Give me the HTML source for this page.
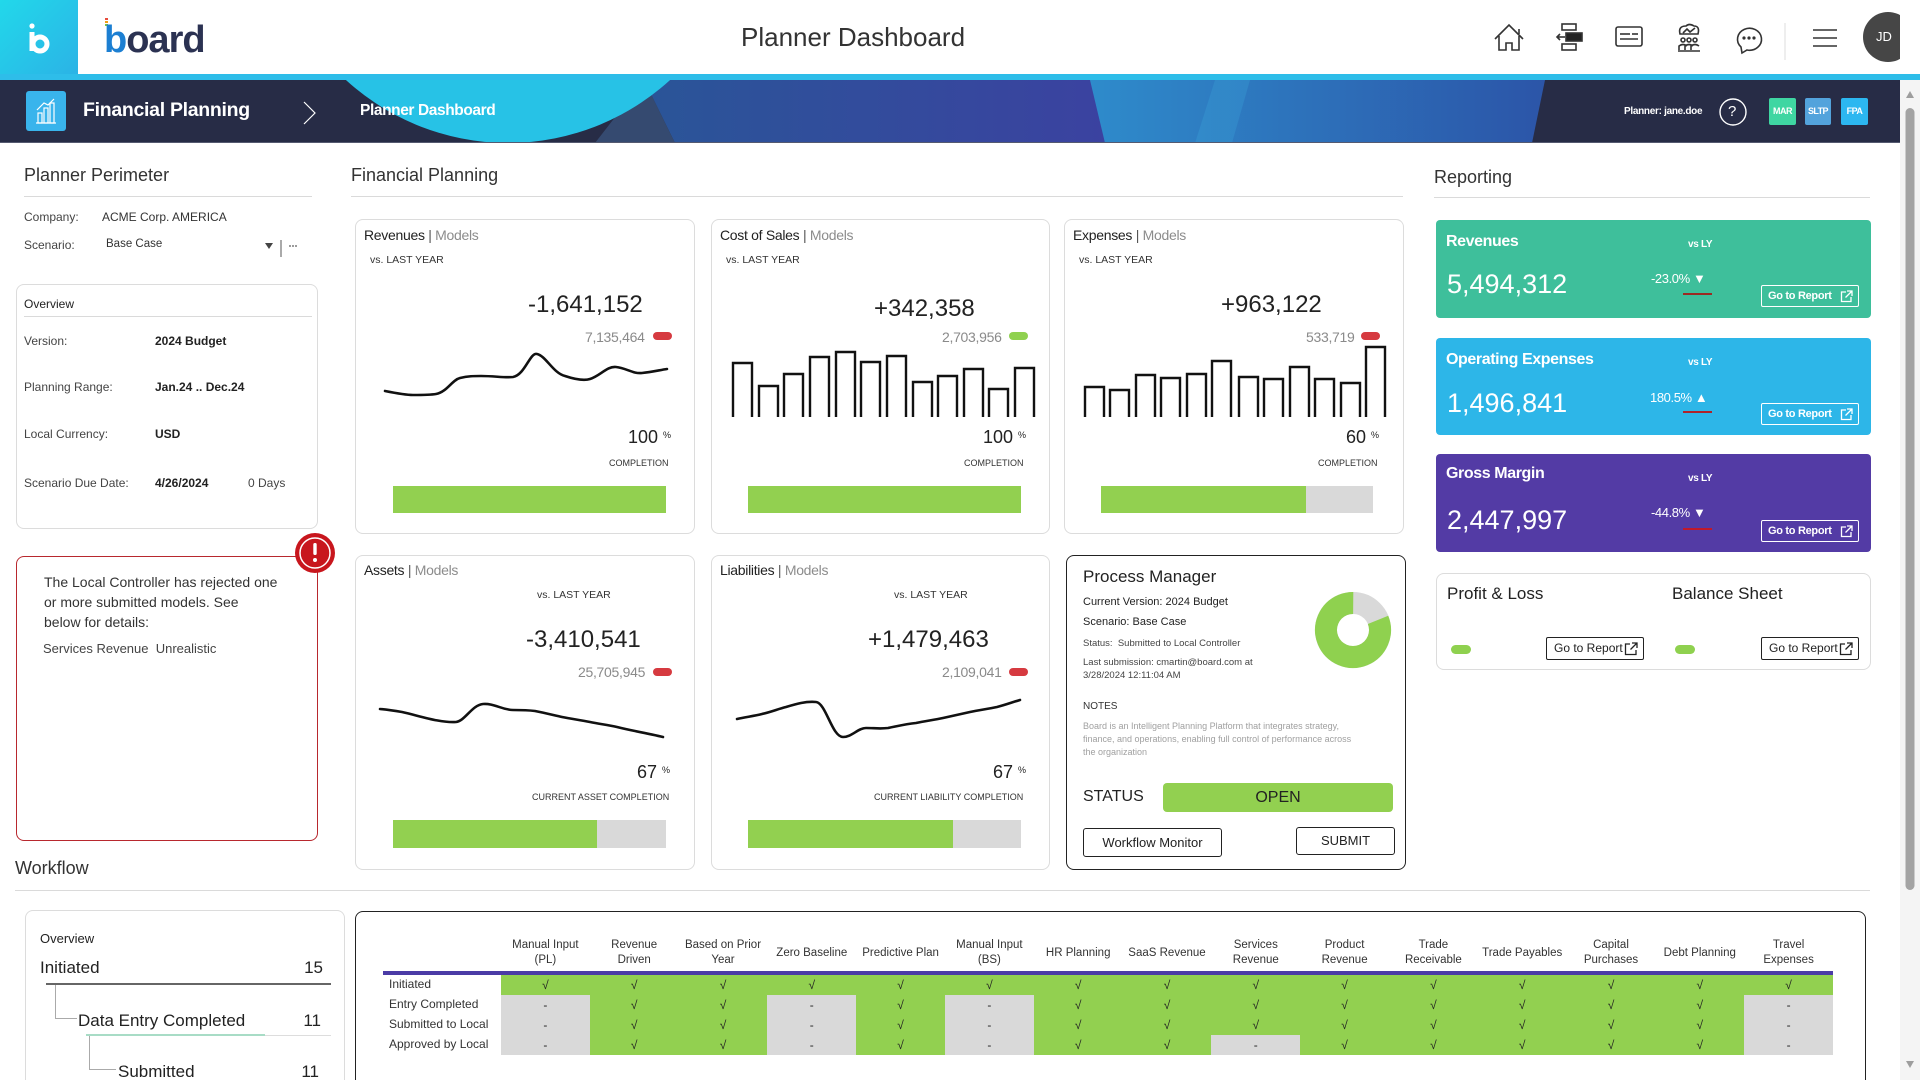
<!DOCTYPE html>
<html><head><meta charset="utf-8">
<style>
*{margin:0;padding:0;box-sizing:border-box}
html,body{width:1920px;height:1080px;overflow:hidden;background:#fff}
body{font-family:"Liberation Sans",Arial,sans-serif;color:#222}
#root{position:relative;width:1920px;height:1080px;overflow:hidden;background:#fff}
.t{position:absolute;white-space:nowrap;line-height:1.2}
.box{position:absolute;border:1px solid #dcdcdc;border-radius:8px;background:#fff}
.hl{position:absolute;height:1px;background:#dadada}
.gbar{position:absolute;background:#d9d9d9}
.gbar i{position:absolute;left:0;top:0;bottom:0;background:#92d050}
.pill{position:absolute;width:19px;height:8px;border-radius:4px}
.tile{position:absolute;left:1436px;width:435px;height:98px;border-radius:4px}
.btnw{position:absolute;width:98px;height:22px;border:1px solid #fff;border-radius:2px;color:#fff;font-weight:bold;font-size:11px;line-height:20px;padding-left:6px;letter-spacing:-0.3px;white-space:nowrap}
.btnk{position:absolute;width:98px;height:23px;border:1px solid #222;border-radius:2px;color:#222;font-size:12px;line-height:21px;padding-left:7px;background:#fff;white-space:nowrap}
.btnw svg,.btnk svg{position:absolute;right:5px;top:4px}
.col{position:absolute;top:975px;width:88.8px}
.col i{display:block;height:20px;line-height:20px;text-align:center;font-style:normal;font-size:12px;color:#222}
.g{background:#92d050}.y{background:#d9d9d9}
.hd{position:absolute;top:933px;height:40px;width:88.8px;display:flex;align-items:center;justify-content:center;text-align:center;font-size:11.5px;line-height:15px;color:#333}
.rl{position:absolute;left:389px;font-size:12px;color:#333;line-height:14px;white-space:nowrap}
</style></head><body><div id="root">

<!-- HEADER -->
<div style="position:absolute;left:0;top:0;width:78px;height:74px;background:linear-gradient(135deg,#22d8ea,#2bb3e6)"></div>
<svg style="position:absolute;left:0;top:0" width="78" height="74">
<circle cx="32" cy="26" r="2.6" fill="#fff"/>
<line x1="32" y1="32" x2="32" y2="51" stroke="#fff" stroke-width="5"/>
<circle cx="40" cy="44" r="7" fill="none" stroke="#fff" stroke-width="5"/>
</svg>
<div style="position:absolute;left:0;top:74px;width:1920px;height:6px;background:#2ebde9"></div>
<svg style="position:absolute;left:105px;top:18px" width="12" height="10"><rect x="0" y="0" width="3" height="2" fill="#e74c3c"/><rect x="0" y="3" width="3" height="2" fill="#f39c12"/><rect x="0" y="6" width="3" height="2" fill="#7cc242"/></svg>
<div class="t" style="left:104px;top:18px;font-size:38px;font-weight:bold;letter-spacing:-1px;color:#2b3252"><span style="color:#1c7fd2">b</span>oard</div>
<div class="t" style="left:741px;top:22px;font-size:26px;color:#333">Planner Dashboard</div>

<svg style="position:absolute;left:0;top:0" width="1900" height="74" fill="none" stroke="#333" stroke-width="1.6">
<polyline points="1495,39 1509,25 1523,39"/><polyline points="1519,29 1519,34"/>
<polyline points="1499,36 1499,50 1506,50 1506,43 1512,43 1512,50 1519,50 1519,36"/>
<rect x="1562" y="24" width="14" height="6"/><rect x="1562" y="44" width="14" height="6"/>
<rect x="1566" y="33" width="16" height="8" fill="#222"/>
<polyline points="1557,37 1565,37"/><polyline points="1560,34 1557,37 1560,40"/>
<rect x="1616" y="27" width="26" height="19" rx="2"/>
<line x1="1620" y1="34" x2="1630" y2="34"/><line x1="1632" y1="34" x2="1638" y2="34"/><line x1="1620" y1="39" x2="1638" y2="39"/>
<path d="M1680,34 q-2,-8 6,-8 q3,-3 8,0 q6,0 4,8 z"/><polyline points="1683,33 1687,29 1690,32 1695,28"/>
<circle cx="1683" cy="40" r="2"/><circle cx="1689" cy="40" r="2"/><circle cx="1695" cy="40" r="2"/>
<path d="M1679,50 v-4 q4,-3 8,0 M1685,50 v-4 q4,-3 8,0 M1691,50 v-4 q4,-3 8,0"/><line x1="1678" y1="51" x2="1700" y2="51"/>
<path d="M1741,47 A12,11 0 1 1 1747,50 L1742,53 Z"/>
<circle cx="1744" cy="38" r="0.8" fill="#333"/><circle cx="1749" cy="38" r="0.8" fill="#333"/><circle cx="1754" cy="38" r="0.8" fill="#333"/>
<line x1="1785" y1="23" x2="1785" y2="60" stroke="#ddd" stroke-width="1"/>
<line x1="1813" y1="30" x2="1837" y2="30"/><line x1="1813" y1="38" x2="1837" y2="38"/><line x1="1813" y1="46" x2="1837" y2="46"/>
<circle cx="1888" cy="37" r="25" fill="#464646" stroke="none"/>
</svg>
<div class="t" style="left:1876px;top:29px;font-size:13px;color:#fff">JD</div>

<!-- NAV BAR -->
<svg style="position:absolute;left:0;top:80px" width="1900" height="63">
<defs>
<linearGradient id="gA" x1="0" x2="1"><stop offset="0" stop-color="#2a5598"/><stop offset="1" stop-color="#3b42a0"/></linearGradient>
<linearGradient id="gB" x1="0" x2="1"><stop offset="0" stop-color="#2e8bcb"/><stop offset="1" stop-color="#2c55a8"/></linearGradient>
</defs>
<rect width="1900" height="63" fill="#272c46"/>
<polygon points="644,0 1095,0 1108,63 675,63" fill="url(#gA)"/>
<polygon points="644,0 675,63 595,63" fill="#354a70"/>
<polygon points="1090,0 1545,0 1532,63 1105,63" fill="url(#gB)"/>
<polygon points="1215,0 1250,0 1232,63 1195,63" fill="#3aa0d8" opacity=".35"/>
<circle cx="508" cy="-177" r="240" fill="#27c2e6"/>
<rect x="0" y="62" width="1900" height="1" fill="#555a70"/>
</svg>
<div style="position:absolute;left:26px;top:91px;width:40px;height:40px;border-radius:3px;background:#39b4ec"></div>
<svg style="position:absolute;left:26px;top:91px" width="40" height="40" fill="none" stroke="#fff" stroke-width="1.2">
<rect x="12" y="22" width="4" height="10"/><rect x="18" y="17" width="4" height="15"/><rect x="24" y="12" width="4" height="20"/>
<polyline points="11,19 18,12 22,14 28,8"/><line x1="10" y1="32" x2="30" y2="32"/>
</svg>
<div class="t" style="left:83px;top:99px;font-size:19.5px;font-weight:bold;color:#fff;letter-spacing:-0.3px">Financial Planning</div>
<svg style="position:absolute;left:300px;top:100px" width="20" height="26"><polyline points="4,2 15,13 4,24" fill="none" stroke="#fff" stroke-width="1.2"/></svg>
<div class="t" style="left:360px;top:102px;font-size:15.5px;font-weight:bold;color:#fff;letter-spacing:-0.4px">Planner Dashboard</div>
<div class="t" style="left:1624px;top:106px;font-size:10px;font-weight:bold;color:#fff;letter-spacing:-0.3px">Planner: jane.doe</div>
<svg style="position:absolute;left:1718px;top:97px" width="30" height="30"><circle cx="15" cy="15" r="13" fill="none" stroke="#fff" stroke-width="1.4"/></svg>
<div class="t" style="left:1728px;top:103px;font-size:15px;color:#fff">?</div>
<div class="t" style="left:1769px;top:98px;width:27px;height:27px;border-radius:2px;background:#3fd6a2;color:#fff;font-size:9px;font-weight:bold;text-align:center;line-height:27px;letter-spacing:-0.5px">MAR</div>
<div class="t" style="left:1805px;top:98px;width:26px;height:27px;border-radius:2px;background:#53a3dc;color:#fff;font-size:9px;font-weight:bold;text-align:center;line-height:27px;letter-spacing:-0.6px">SLTP</div>
<div class="t" style="left:1841px;top:98px;width:27px;height:27px;border-radius:2px;background:#2cb7f0;color:#fff;font-size:9px;font-weight:bold;text-align:center;line-height:27px;letter-spacing:-0.5px">FPA</div>

<!-- SCROLLBAR -->
<svg style="position:absolute;left:1900px;top:80px" width="20" height="1000">
<rect width="20" height="1000" fill="#f4f4f4"/>
<polygon points="10,11 6,18 14,18" fill="#9d9d9d"/>
<rect x="5.5" y="28" width="9" height="782" rx="4.5" fill="#a3a3a3"/>
<polygon points="10,988 6,981 14,981" fill="#9d9d9d"/>
</svg>

<!-- LEFT COLUMN -->
<div class="t" style="left:24px;top:165px;font-size:18px;color:#333">Planner Perimeter</div>
<div class="hl" style="left:24px;top:196px;width:288px"></div>
<div class="t" style="left:24px;top:210px;font-size:12px;color:#444">Company:</div>
<div class="t" style="left:102px;top:210px;font-size:12px;color:#333">ACME Corp. AMERICA</div>
<div class="t" style="left:24px;top:238px;font-size:12px;color:#444">Scenario:</div>
<div class="t" style="left:106px;top:238px;font-size:11.5px;color:#333">Base Case</div>
<svg style="position:absolute;left:262px;top:240px" width="40" height="20"><polygon points="3,3 11,3 7,9" fill="#444"/><line x1="19" y1="-6" x2="19" y2="17" stroke="#555" stroke-width="1"/><circle cx="28" cy="6" r="0.9" fill="#555"/><circle cx="31" cy="6" r="0.9" fill="#555"/><circle cx="34" cy="6" r="0.9" fill="#555"/></svg>

<div class="box" style="left:16px;top:284px;width:302px;height:245px"></div>
<div class="t" style="left:24px;top:297px;font-size:12px;color:#222">Overview</div>
<div class="hl" style="left:24px;top:316px;width:288px"></div>
<div class="t" style="left:24px;top:334px;font-size:12px;color:#444">Version:</div>
<div class="t" style="left:155px;top:334px;font-size:12px;font-weight:bold;color:#222">2024 Budget</div>
<div class="t" style="left:24px;top:380px;font-size:12px;color:#444">Planning Range:</div>
<div class="t" style="left:155px;top:380px;font-size:12px;font-weight:bold;color:#222">Jan.24 .. Dec.24</div>
<div class="t" style="left:24px;top:427px;font-size:12px;color:#444">Local Currency:</div>
<div class="t" style="left:155px;top:427px;font-size:12px;font-weight:bold;color:#222">USD</div>
<div class="t" style="left:24px;top:476px;font-size:12px;color:#444">Scenario Due Date:</div>
<div class="t" style="left:155px;top:476px;font-size:12px;font-weight:bold;color:#222">4/26/2024</div>
<div class="t" style="left:248px;top:476px;font-size:12px;color:#444">0 Days</div>

<div style="position:absolute;left:16px;top:556px;width:302px;height:285px;border:1.3px solid #b8282e;border-radius:8px"></div>
<svg style="position:absolute;left:294px;top:532px" width="42" height="42"><circle cx="21" cy="21" r="20" fill="#c8161d"/><circle cx="21" cy="21" r="15" fill="none" stroke="#fff" stroke-width="1.5"/><rect x="19.3" y="11" width="3.4" height="12" rx="1.5" fill="#fff"/><circle cx="21" cy="28" r="2" fill="#fff"/></svg>
<div class="t" style="left:44px;top:572px;font-size:14px;line-height:20px;color:#333">The Local Controller has rejected one<br>or more submitted models. See<br>below for details:</div>
<div class="t" style="left:43px;top:641px;font-size:13px;color:#444">Services Revenue&nbsp; Unrealistic</div>

<!-- FINANCIAL PLANNING -->
<div class="t" style="left:351px;top:165px;font-size:18px;color:#333">Financial Planning</div>
<div class="hl" style="left:351px;top:196px;width:1052px"></div>

<div class="box" style="left:355px;top:219px;width:340px;height:315px"></div>
<div class="box" style="left:711px;top:219px;width:339px;height:315px"></div>
<div class="box" style="left:1064px;top:219px;width:340px;height:315px"></div>
<div class="box" style="left:355px;top:555px;width:340px;height:315px"></div>
<div class="box" style="left:711px;top:555px;width:339px;height:315px"></div>
<div style="position:absolute;left:1066px;top:555px;width:340px;height:315px;border:1.5px solid #222;border-radius:8px"></div>

<!-- Revenues -->
<div class="t" style="left:364px;top:227px;font-size:14px;color:#222;letter-spacing:-0.3px">Revenues <span style="color:#555">|</span> <span style="color:#8c8c8c">Models</span></div>
<div class="t" style="left:370px;top:254px;font-size:10.5px;color:#333">vs. LAST YEAR</div>
<div class="t" style="left:528px;top:291px;font-size:24px;color:#222">-1,641,152</div>
<div class="t" style="left:585px;top:329px;font-size:14px;color:#8a8a8a;letter-spacing:-0.3px">7,135,464</div>
<div class="pill" style="left:653px;top:332px;background:#d63a40"></div>
<div class="t" style="left:628px;top:427px;font-size:18px;color:#222">100<span style="font-size:9px;vertical-align:5px;margin-left:5px">%</span></div>
<div class="t" style="left:609px;top:458px;font-size:9px;color:#333">COMPLETION</div>
<div class="gbar" style="left:393px;top:486px;width:273px;height:27px"><i style="width:273px"></i></div>

<!-- Cost of Sales -->
<div class="t" style="left:720px;top:227px;font-size:14px;color:#222;letter-spacing:-0.3px">Cost of Sales <span style="color:#555">|</span> <span style="color:#8c8c8c">Models</span></div>
<div class="t" style="left:726px;top:254px;font-size:10.5px;color:#333">vs. LAST YEAR</div>
<div class="t" style="left:874px;top:295px;font-size:24px;color:#222">+342,358</div>
<div class="t" style="left:942px;top:329px;font-size:14px;color:#8a8a8a;letter-spacing:-0.3px">2,703,956</div>
<div class="pill" style="left:1009px;top:332px;background:#8fd14f"></div>
<div class="t" style="left:983px;top:427px;font-size:18px;color:#222">100<span style="font-size:9px;vertical-align:5px;margin-left:5px">%</span></div>
<div class="t" style="left:964px;top:458px;font-size:9px;color:#333">COMPLETION</div>
<div class="gbar" style="left:748px;top:486px;width:273px;height:27px"><i style="width:273px"></i></div>

<!-- Expenses -->
<div class="t" style="left:1073px;top:227px;font-size:14px;color:#222;letter-spacing:-0.3px">Expenses <span style="color:#555">|</span> <span style="color:#8c8c8c">Models</span></div>
<div class="t" style="left:1079px;top:254px;font-size:10.5px;color:#333">vs. LAST YEAR</div>
<div class="t" style="left:1221px;top:291px;font-size:24px;color:#222">+963,122</div>
<div class="t" style="left:1306px;top:329px;font-size:14px;color:#8a8a8a;letter-spacing:-0.3px">533,719</div>
<div class="pill" style="left:1361px;top:332px;background:#d63a40"></div>
<div class="t" style="left:1346px;top:427px;font-size:18px;color:#222">60<span style="font-size:9px;vertical-align:5px;margin-left:5px">%</span></div>
<div class="t" style="left:1318px;top:458px;font-size:9px;color:#333">COMPLETION</div>
<div class="gbar" style="left:1101px;top:486px;width:272px;height:27px"><i style="width:205px"></i></div>

<!-- Assets -->
<div class="t" style="left:364px;top:562px;font-size:14px;color:#222;letter-spacing:-0.3px">Assets <span style="color:#555">|</span> <span style="color:#8c8c8c">Models</span></div>
<div class="t" style="left:537px;top:589px;font-size:10.5px;color:#333">vs. LAST YEAR</div>
<div class="t" style="left:526px;top:626px;font-size:24px;color:#222">-3,410,541</div>
<div class="t" style="left:578px;top:664px;font-size:14px;color:#8a8a8a;letter-spacing:-0.3px">25,705,945</div>
<div class="pill" style="left:653px;top:668px;background:#d63a40"></div>
<div class="t" style="left:637px;top:762px;font-size:18px;color:#222">67<span style="font-size:9px;vertical-align:5px;margin-left:5px">%</span></div>
<div class="t" style="left:532px;top:792px;font-size:9px;color:#333">CURRENT ASSET COMPLETION</div>
<div class="gbar" style="left:393px;top:820px;width:273px;height:28px"><i style="width:204px"></i></div>

<!-- Liabilities -->
<div class="t" style="left:720px;top:562px;font-size:14px;color:#222;letter-spacing:-0.3px">Liabilities <span style="color:#555">|</span> <span style="color:#8c8c8c">Models</span></div>
<div class="t" style="left:894px;top:589px;font-size:10.5px;color:#333">vs. LAST YEAR</div>
<div class="t" style="left:868px;top:626px;font-size:24px;color:#222">+1,479,463</div>
<div class="t" style="left:942px;top:664px;font-size:14px;color:#8a8a8a;letter-spacing:-0.3px">2,109,041</div>
<div class="pill" style="left:1009px;top:668px;background:#d63a40"></div>
<div class="t" style="left:993px;top:762px;font-size:18px;color:#222">67<span style="font-size:9px;vertical-align:5px;margin-left:5px">%</span></div>
<div class="t" style="left:874px;top:792px;font-size:9px;color:#333">CURRENT LIABILITY COMPLETION</div>
<div class="gbar" style="left:748px;top:820px;width:273px;height:28px"><i style="width:205px"></i></div>

<!-- Process Manager -->
<div class="t" style="left:1083px;top:567px;font-size:17px;color:#222">Process Manager</div>
<div class="t" style="left:1083px;top:596px;font-size:11px;color:#222">Current Version: 2024 Budget</div>
<div class="t" style="left:1083px;top:616px;font-size:11px;color:#222">Scenario: Base Case</div>
<div class="t" style="left:1083px;top:638px;font-size:9.5px;color:#444">Status:&nbsp; Submitted to Local Controller</div>
<div class="t" style="left:1083px;top:656px;font-size:9.5px;color:#444;line-height:13px">Last submission: cmartin@board.com at<br>3/28/2024 12:11:04 AM</div>
<div class="t" style="left:1083px;top:701px;font-size:10px;color:#333">NOTES</div>
<div class="t" style="left:1083px;top:720px;font-size:9px;color:#a0a0a0;line-height:13px">Board is an Intelligent Planning Platform that integrates strategy,<br>finance, and operations, enabling full control of performance across<br>the organization</div>
<div class="t" style="left:1083px;top:787px;font-size:16px;color:#222">STATUS</div>
<div class="t" style="left:1163px;top:783px;width:230px;height:29px;border-radius:4px;background:#92d050;text-align:center;line-height:29px;font-size:16px;color:#222">OPEN</div>
<div class="t" style="left:1083px;top:828px;width:139px;height:29px;border:1px solid #222;border-radius:3px;text-align:center;line-height:27px;font-size:13px;color:#222">Workflow Monitor</div>
<div class="t" style="left:1296px;top:827px;width:99px;height:28px;border:1px solid #222;border-radius:3px;text-align:center;line-height:26px;font-size:13px;color:#222">SUBMIT</div>

<!-- REPORTING -->
<div class="t" style="left:1434px;top:167px;font-size:18px;color:#333">Reporting</div>
<div class="hl" style="left:1434px;top:197px;width:436px"></div>

<div class="tile" style="top:220px;background:#3ebf9b"></div>
<div class="t" style="left:1446px;top:232px;font-size:16px;font-weight:bold;color:#fff;letter-spacing:-0.4px">Revenues</div>
<div class="t" style="left:1688px;top:239px;font-size:10px;font-weight:bold;color:#fff;letter-spacing:-0.3px">vs LY</div>
<div class="t" style="left:1447px;top:268px;font-size:27px;color:#fff">5,494,312</div>
<div class="t" style="left:1651px;top:271px;font-size:13px;color:#fff;letter-spacing:-0.4px">-23.0% ▼</div>
<div style="position:absolute;left:1683px;top:293px;width:29px;height:2px;background:#9c2a22"></div>
<div class="btnw" style="left:1761px;top:285px">Go to Report<svg width="13" height="13" fill="none" stroke="#fff" stroke-width="1.3"><path d="M6,2H1.5V11.5H11V7"/><path d="M7,1H12V6M12,1L5.5,7.5"/></svg></div>

<div class="tile" style="top:338px;height:97px;background:#2db6e8"></div>
<div class="t" style="left:1446px;top:350px;font-size:16px;font-weight:bold;color:#fff;letter-spacing:-0.4px">Operating Expenses</div>
<div class="t" style="left:1688px;top:357px;font-size:10px;font-weight:bold;color:#fff;letter-spacing:-0.3px">vs LY</div>
<div class="t" style="left:1447px;top:387px;font-size:27px;color:#fff">1,496,841</div>
<div class="t" style="left:1650px;top:390px;font-size:13px;color:#fff;letter-spacing:-0.4px">180.5% ▲</div>
<div style="position:absolute;left:1683px;top:411px;width:29px;height:2px;background:#b0232a"></div>
<div class="btnw" style="left:1761px;top:403px">Go to Report<svg width="13" height="13" fill="none" stroke="#fff" stroke-width="1.3"><path d="M6,2H1.5V11.5H11V7"/><path d="M7,1H12V6M12,1L5.5,7.5"/></svg></div>

<div class="tile" style="top:454px;background:#533ba5"></div>
<div class="t" style="left:1446px;top:464px;font-size:16px;font-weight:bold;color:#fff;letter-spacing:-0.4px">Gross Margin</div>
<div class="t" style="left:1688px;top:473px;font-size:10px;font-weight:bold;color:#fff;letter-spacing:-0.3px">vs LY</div>
<div class="t" style="left:1447px;top:504px;font-size:27px;color:#fff">2,447,997</div>
<div class="t" style="left:1651px;top:505px;font-size:13px;color:#fff;letter-spacing:-0.4px">-44.8% ▼</div>
<div style="position:absolute;left:1683px;top:528px;width:29px;height:2px;background:#c0192a"></div>
<div class="btnw" style="left:1761px;top:520px">Go to Report<svg width="13" height="13" fill="none" stroke="#fff" stroke-width="1.3"><path d="M6,2H1.5V11.5H11V7"/><path d="M7,1H12V6M12,1L5.5,7.5"/></svg></div>

<div class="box" style="left:1436px;top:573px;width:435px;height:97px"></div>
<div class="t" style="left:1447px;top:584px;font-size:17px;color:#222">Profit &amp; Loss</div>
<div class="t" style="left:1672px;top:584px;font-size:17px;color:#222">Balance Sheet</div>
<div style="position:absolute;left:1451px;top:645px;width:20px;height:9px;border-radius:5px;background:#8fd14f"></div>
<div style="position:absolute;left:1675px;top:645px;width:20px;height:9px;border-radius:5px;background:#8fd14f"></div>
<div class="btnk" style="left:1546px;top:637px">Go to Report<svg width="14" height="14" fill="none" stroke="#222" stroke-width="1.3"><path d="M6,2H1.5V12.5H12V8"/><path d="M8,1H13V6M13,1L6.5,7.5"/></svg></div>
<div class="btnk" style="left:1761px;top:637px">Go to Report<svg width="14" height="14" fill="none" stroke="#222" stroke-width="1.3"><path d="M6,2H1.5V12.5H12V8"/><path d="M8,1H13V6M13,1L6.5,7.5"/></svg></div>

<!-- WORKFLOW -->
<div class="t" style="left:15px;top:858px;font-size:18px;color:#333">Workflow</div>
<div class="hl" style="left:15px;top:890px;width:1855px"></div>

<div class="box" style="left:25px;top:910px;width:320px;height:220px"></div>
<div class="t" style="left:40px;top:931px;font-size:13px;color:#222">Overview</div>
<div class="t" style="left:40px;top:958px;font-size:17px;color:#222">Initiated</div>
<div class="t" style="left:283px;top:958px;width:40px;text-align:right;font-size:17px;color:#222">15</div>
<div style="position:absolute;left:46px;top:983px;width:285px;height:2px;background:#666"></div>
<div style="position:absolute;left:55px;top:985px;width:22px;height:34px;border-left:1px solid #aaa;border-bottom:1px solid #aaa"></div>
<div class="t" style="left:78px;top:1011px;font-size:17px;color:#222">Data Entry Completed</div>
<div class="t" style="left:281px;top:1011px;width:40px;text-align:right;font-size:17px;color:#222">11</div>
<div style="position:absolute;left:86px;top:1035px;width:245px;height:1px;background:#ddd"></div>
<div style="position:absolute;left:86px;top:1034px;width:179px;height:2px;background:#a8dcc6"></div>
<div style="position:absolute;left:89px;top:1036px;width:27px;height:34px;border-left:1px solid #aaa;border-bottom:1px solid #aaa"></div>
<div class="t" style="left:118px;top:1062px;font-size:17px;color:#222">Submitted</div>
<div class="t" style="left:279px;top:1062px;width:40px;text-align:right;font-size:17px;color:#222">11</div>

<div style="position:absolute;left:355px;top:911px;width:1511px;height:220px;border:1.5px solid #222;border-radius:8px"></div>
<div class="hd" style="left:501px">Manual Input<br>(PL)</div>
<div class="hd" style="left:589.8px">Revenue<br>Driven</div>
<div class="hd" style="left:678.6px">Based on Prior<br>Year</div>
<div class="hd" style="left:767.4px">Zero Baseline</div>
<div class="hd" style="left:856.2px">Predictive Plan</div>
<div class="hd" style="left:945px">Manual Input<br>(BS)</div>
<div class="hd" style="left:1033.8px">HR Planning</div>
<div class="hd" style="left:1122.6px">SaaS Revenue</div>
<div class="hd" style="left:1211.4px">Services<br>Revenue</div>
<div class="hd" style="left:1300.2px">Product<br>Revenue</div>
<div class="hd" style="left:1389px">Trade<br>Receivable</div>
<div class="hd" style="left:1477.8px">Trade Payables</div>
<div class="hd" style="left:1566.6px">Capital<br>Purchases</div>
<div class="hd" style="left:1655.4px">Debt Planning</div>
<div class="hd" style="left:1744.2px">Travel<br>Expenses</div>
<div style="position:absolute;left:383px;top:971px;width:1450px;height:4px;background:#4b3ba6"></div>
<div class="rl" style="top:977px">Initiated</div>
<div class="rl" style="top:997px">Entry Completed</div>
<div class="rl" style="top:1017px">Submitted to Local</div>
<div class="rl" style="top:1037px">Approved by Local</div>

<div class="col" style="left:501px"><i class="g">√</i><i class="y">-</i><i class="y">-</i><i class="y">-</i></div>
<div class="col" style="left:589.8px"><i class="g">√</i><i class="g">√</i><i class="g">√</i><i class="g">√</i></div>
<div class="col" style="left:678.6px"><i class="g">√</i><i class="g">√</i><i class="g">√</i><i class="g">√</i></div>
<div class="col" style="left:767.4px"><i class="g">√</i><i class="y">-</i><i class="y">-</i><i class="y">-</i></div>
<div class="col" style="left:856.2px"><i class="g">√</i><i class="g">√</i><i class="g">√</i><i class="g">√</i></div>
<div class="col" style="left:945px"><i class="g">√</i><i class="y">-</i><i class="y">-</i><i class="y">-</i></div>
<div class="col" style="left:1033.8px"><i class="g">√</i><i class="g">√</i><i class="g">√</i><i class="g">√</i></div>
<div class="col" style="left:1122.6px"><i class="g">√</i><i class="g">√</i><i class="g">√</i><i class="g">√</i></div>
<div class="col" style="left:1211.4px"><i class="g">√</i><i class="g">√</i><i class="g">√</i><i class="y">-</i></div>
<div class="col" style="left:1300.2px"><i class="g">√</i><i class="g">√</i><i class="g">√</i><i class="g">√</i></div>
<div class="col" style="left:1389px"><i class="g">√</i><i class="g">√</i><i class="g">√</i><i class="g">√</i></div>
<div class="col" style="left:1477.8px"><i class="g">√</i><i class="g">√</i><i class="g">√</i><i class="g">√</i></div>
<div class="col" style="left:1566.6px"><i class="g">√</i><i class="g">√</i><i class="g">√</i><i class="g">√</i></div>
<div class="col" style="left:1655.4px"><i class="g">√</i><i class="g">√</i><i class="g">√</i><i class="g">√</i></div>
<div class="col" style="left:1744.2px"><i class="g">√</i><i class="y">-</i><i class="y">-</i><i class="y">-</i></div>

<!-- CHART OVERLAY -->
<svg style="position:absolute;left:0;top:0;pointer-events:none" width="1920" height="1080" fill="none" stroke="#111" stroke-width="2.6" stroke-linejoin="round" stroke-linecap="round">
<path d="M385,391 C395,393 405,395 413,395 C422,395 430,395 436,394 C447,392 452,380 460,378 C468,376 474,376 481,376 C495,376 505,378 513,377 C525,375 530,352 537,354 C546,356 553,373 565,376 C574,379 584,381 590,379 C600,376 607,366 616,367 C626,368 633,374 642,373 C652,372 660,370 667,369"/>
<path d="M380,709 C390,710 396,711 402,712 C420,716 440,723 456,722 C465,721 472,705 483,704 C493,703 503,710 513,710 C522,710 527,710 535,711 C545,713 553,715 562,717 C572,719 580,720 590,722 C600,724 608,725 617,727 C625,729 630,730 635,731 C645,733 655,735 663,737"/>
<path d="M737,719 C746,717 754,716 762,714 C771,712 778,709 786,707 C796,704 806,701 816,702 C826,703 832,737 843,737 C852,737 858,728 866,728 C874,728 880,729 888,728 C898,726 906,724 916,723 C925,721 934,720 943,718 C952,716 961,714 970,712 C979,710 988,709 997,707 C1005,705 1013,702 1020,700"/>
<g stroke-width="2.4" stroke-linejoin="miter" stroke-linecap="butt">
<path d="M733,417V363H752V417 M759,417V386H778V417 M784,417V374H803V417 M810,417V357H829V417 M836,417V352H855V417 M861,417V362H880V417 M887,417V356H906V417 M913,417V382H932V417 M938,417V376H957V417 M964,417V369H983V417 M989,417V389H1008V417 M1015,417V368H1034V417"/>
<path d="M1085,417V387H1104V417 M1110,417V390H1129V417 M1136,417V375H1155V417 M1161,417V378H1180V417 M1187,417V374H1206V417 M1212,417V361H1231V417 M1239,417V377H1258V417 M1264,417V379H1283V417 M1290,417V367H1309V417 M1315,417V379H1334V417 M1341,417V383H1360V417 M1366,417V347H1385V417"/>
</g>
<circle cx="1353" cy="630" r="27" stroke="#d9d9d9" stroke-width="22"/>
<circle cx="1353" cy="630" r="27" stroke="#8fd14f" stroke-width="22" stroke-dasharray="137.6 200" transform="rotate(-22 1353 630)" stroke-linecap="butt"/>
</svg>

</div></body></html>
